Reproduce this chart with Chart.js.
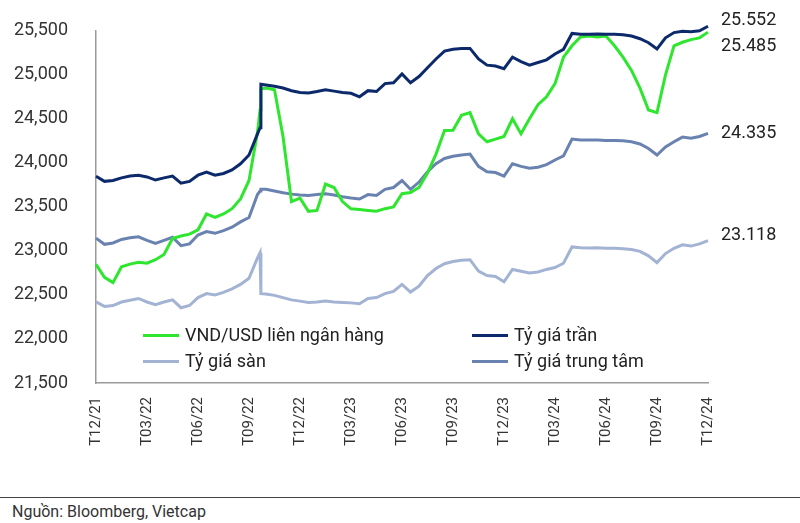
<!DOCTYPE html>
<html>
<head>
<meta charset="utf-8">
<script src="https://cdn.jsdelivr.net/npm/chart.js@4/dist/chart.umd.min.js"></script>
<style>
  body { margin: 0; background: #fff; font-family: Roboto, "Noto Sans", sans-serif; color: #222; }
  #wrap { position: relative; width: 800px; height: 523px; }
  #box { position: absolute; left: 0; top: 0; width: 800px; height: 490px; }
  .lg { position: absolute; font-size: 18px; color: #222; line-height: 22px; white-space: nowrap; }
  .lg i { display: inline-block; width: 36px; height: 3px; vertical-align: middle; margin-right: 6px; position: relative; top: -1px; }
  #rule { position: absolute; left: 0; top: 497px; width: 800px; height: 0; border-top: 1.5px solid #444; }
  #src { position: absolute; left: 12px; top: 502px; font-size: 16px; color: #333; }
</style>
</head>
<body>
<div id="wrap">
  <div id="box"><canvas id="fxChart"></canvas></div>
  <div class="lg" style="left:143px; top:324px;"><i style="background:#2ee62e"></i>VND/USD liên ngân hàng</div>
  <div class="lg" style="left:143px; top:350px;"><i style="background:#a3b3d3"></i>Tỷ giá sàn</div>
  <div class="lg" style="left:472px; top:324px;"><i style="background:#0c2a6b"></i>Tỷ giá trần</div>
  <div class="lg" style="left:472px; top:350px;"><i style="background:#6a82b0"></i>Tỷ giá trung tâm</div>
  <div id="rule"></div>
  <div id="src">Nguồn: Bloomberg, Vietcap</div>
</div>
<script>
// months since T12/21
var months = [0,0.5,1,1.5,2,2.5,3,3.5,4,4.5,
  5,5.5,6,6.5,7,7.5,8,8.5,9,9.5,
  9.65,9.7,10,10.5,11,11.5,12,12.5,13,13.5,
  14,14.5,15,15.5,16,16.5,17,17.5,18,18.5,
  19,19.5,20,20.5,21,21.5,22,22.5,23,23.5,
  24,24.5,25,25.5,26,26.5,27,27.5,28,28.5,
  29,29.5,30,30.5,31,31.5,32,32.5,33,33.5,
  34,34.5,35,35.5,36];

var tickLabels = ["T12/21","T03/22","T06/22","T09/22","T12/22","T03/23","T06/23",
  "T09/23","T12/23","T03/24","T06/24","T09/24","T12/24"];

var interbank = [22848,22700,22640,22820,22850,22870,22860,22900,22960,23140,
  23170,23190,23240,23420,23380,23420,23480,23590,23800,24350,
  24600,24840,24850,24830,24300,23560,23600,23450,23460,23760,
  23720,23560,23478,23470,23460,23450,23480,23500,23650,23663,
  23720,23885,24100,24367,24370,24540,24570,24330,24240,24270,
  24300,24500,24330,24500,24660,24750,24900,25200,25330,25430,
  25440,25430,25440,25330,25200,25050,24848,24600,24570,25000,
  25330,25370,25400,25420,25485];

var ceiling = [23848,23790,23800,23830,23850,23860,23840,23805,23830,23850,
  23770,23790,23860,23895,23860,23880,23920,23990,24090,24330,
  24400,24893,24885,24870,24850,24820,24800,24795,24810,24830,
  24815,24800,24790,24750,24820,24810,24900,24910,25010,24910,
  24980,25080,25180,25270,25290,25300,25300,25180,25110,25100,
  25070,25200,25150,25110,25140,25170,25237,25290,25470,25460,
  25460,25465,25460,25460,25455,25440,25410,25365,25295,25420,
  25480,25496,25490,25500,25552];

var central = [23145,23075,23090,23130,23150,23160,23120,23085,23120,23155,
  23060,23080,23180,23220,23200,23230,23270,23330,23380,23640,
  23680,23700,23700,23680,23660,23645,23635,23630,23640,23650,
  23635,23615,23600,23590,23640,23630,23700,23720,23800,23700,
  23780,23900,23990,24050,24075,24090,24100,23960,23900,23890,
  23850,23990,23960,23940,23950,23980,24033,24080,24270,24260,
  24260,24260,24255,24255,24250,24240,24215,24163,24089,24180,
  24240,24293,24280,24300,24335];

var floor = [22422,22370,22380,22420,22440,22460,22420,22390,22420,22445,
  22355,22380,22470,22515,22500,22530,22570,22620,22690,22920,
  22980,22515,22510,22495,22470,22444,22430,22415,22420,22430,
  22420,22415,22410,22400,22460,22470,22515,22540,22620,22533,
  22600,22720,22800,22855,22880,22895,22900,22770,22720,22710,
  22650,22790,22770,22750,22760,22790,22811,22860,23045,23035,
  23033,23035,23030,23030,23025,23015,22995,22944,22867,22970,
  23030,23070,23055,23080,23118];

function pts(arr) {
  return months.map(function(m, i) { return { x: m, y: arr[i] }; });
}

function line(label, arr, color, order, endOffset) {
  return {
    label: label,
    data: pts(arr),
    borderColor: color,
    borderWidth: 3,
    pointRadius: 0,
    tension: 0,
    clip: false,
    order: order,
    endOffset: endOffset
  };
}

// value labels at the right end of each line
var endLabels = {
  id: "endLabels",
  afterDatasetsDraw: function(chart) {
    var ctx = chart.ctx;
    var y = chart.scales.y;
    ctx.save();
    ctx.font = "18px Roboto";
    ctx.fillStyle = "#222";
    ctx.textBaseline = "middle";
    chart.data.datasets.forEach(function(ds) {
      var last = ds.data[ds.data.length - 1].y;
      var txt = (last / 1000).toFixed(3);
      ctx.fillText(txt, chart.chartArea.right + 13, y.getPixelForValue(last) + ds.endOffset);
    });
    ctx.restore();
  }
};

var chart = new Chart(document.getElementById("fxChart").getContext("2d"), {
  type: "line",
  data: {
    datasets: [
      line("Tỷ giá trần", ceiling, "#0c2a6b", 1, -6),
      line("VND/USD liên ngân hàng", interbank, "#2ee62e", 2, 14),
      line("Tỷ giá trung tâm", central, "#6a82b0", 3, 0),
      line("Tỷ giá sàn", floor, "#a3b3d3", 4, -5)
    ]
  },
  options: {
    responsive: true,
    maintainAspectRatio: false,
    animation: false,
    layout: { padding: { left: 0, right: 92, top: 23, bottom: 0 } },
    plugins: { legend: { display: false }, tooltip: { enabled: false } },
    scales: {
      x: {
        type: "linear",
        min: 0,
        max: 36,
        afterFit: function(axis) { axis.height = 107; },
        grid: { display: false },
        border: { display: true, color: "#9a9a9a", width: 1.5 },
        ticks: {
          stepSize: 3,
          autoSkip: false,
          maxRotation: 90,
          minRotation: 90,
          padding: 6,
          color: "#333",
          font: { family: "Roboto", size: 15 },
          callback: function(v) { return tickLabels[Math.round(v / 3)]; }
        }
      },
      y: {
        min: 21500,
        max: 25500,
        afterFit: function(axis) { axis.width = 96; },
        grid: { display: false },
        border: { display: true, color: "#9a9a9a", width: 1.5 },
        ticks: {
          stepSize: 500,
          padding: 20,
          color: "#333",
          font: { family: "Roboto", size: 18 },
          callback: function(v) { return v.toLocaleString("en-US"); }
        }
      }
    }
  },
  plugins: [endLabels]
});
</script>
</body>
</html>
